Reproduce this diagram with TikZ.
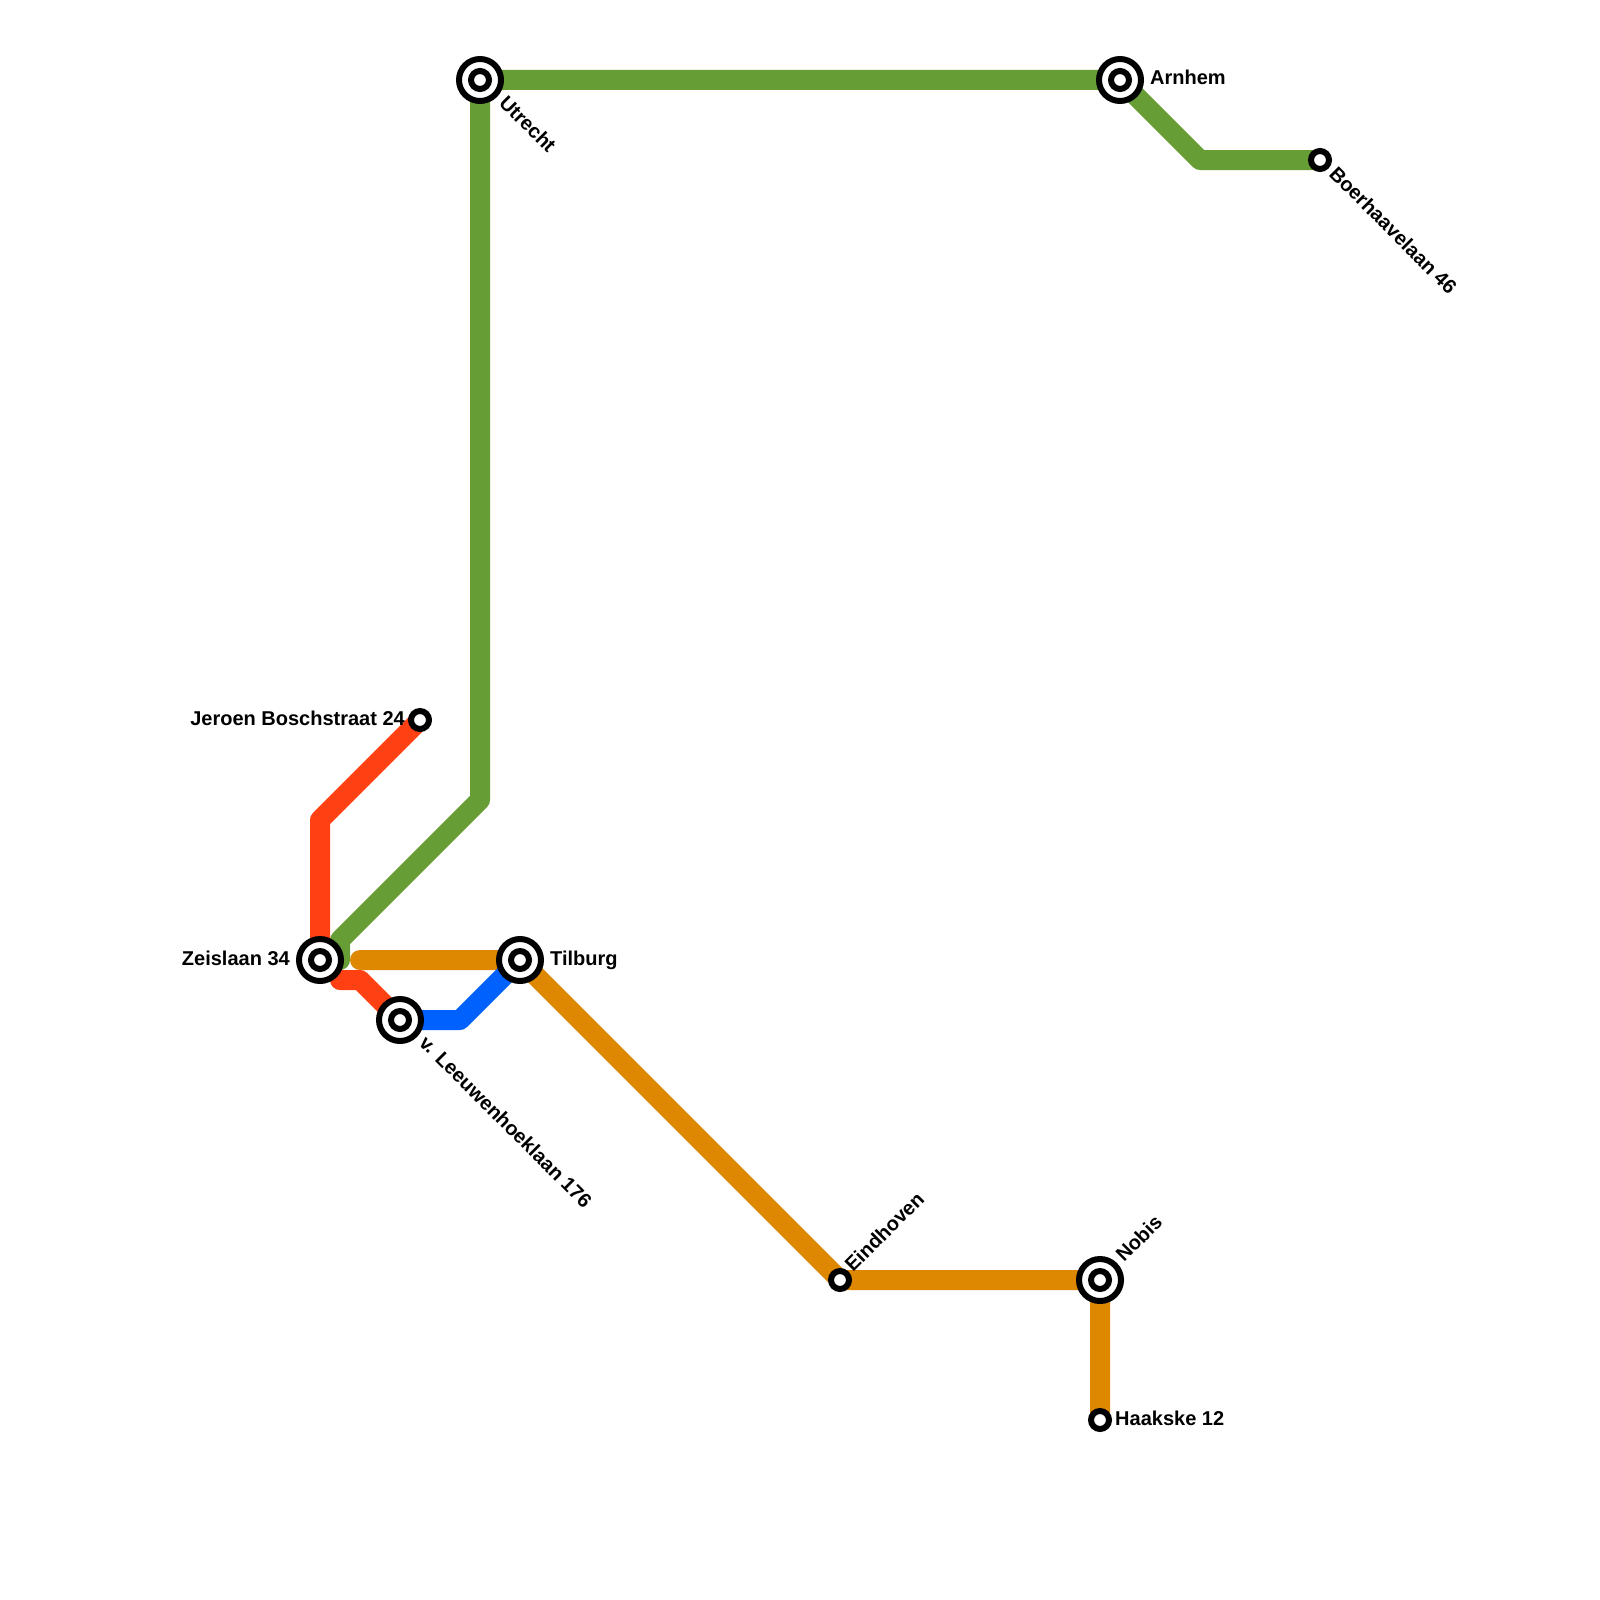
\documentclass[tikz,border=0pt]{standalone}
\usepackage{fontspec}
\setmainfont{Liberation Sans}
\tikzset{
  px/.style={x=1pt,y=-1pt},
  route/.style={line width=20pt,line join=round,line cap=round},
  bigstn/.style={circle,draw=black,fill=white,line width=6pt,minimum size=42pt,inner sep=0pt,outer sep=0pt},
  stndot/.style={circle,draw=black,fill=white,line width=6pt,minimum size=18pt,inner sep=0pt,outer sep=0pt},
  stnlabel/.style={font=\bfseries\fontsize{20}{22}\selectfont,inner sep=0pt,text=black},
}
\definecolor{routegreen}{HTML}{669D34}
\definecolor{routered}{HTML}{FF4013}
\definecolor{routeblue}{HTML}{0061FF}
\definecolor{routeorange}{HTML}{DE8700}
\begin{document}
\begin{tikzpicture}[px]
\useasboundingbox (0,0) rectangle (1600,1600);
\coordinate (zei) at (320,960);
\coordinate (til) at (520,960);
\coordinate (lee) at (400,1020);
\coordinate (utr) at (480,80);
\coordinate (arn) at (1120,80);
\coordinate (boe) at (1320,160);
\coordinate (jer) at (420,720);
\coordinate (ein) at (840,1280);
\coordinate (nob) at (1100,1280);
\coordinate (haa) at (1100,1420);
\coordinate (redstart) at (340,980);
\coordinate (orangestart) at (360,960);
% green
\draw[route,routegreen] (boe) -- (1200,160) -- (arn) -- (utr) -- (480,800) -- (340,940) -- (340,960);
% orange
\draw[route,routeorange] (orangestart) -- (til) -- (ein) -- (nob) -- (haa);
% red
\draw[route,routered] (jer) -- (320,820) -- (zei);
\draw[route,routered] (redstart) -- (360,980) -- (lee);
% blue
\draw[route,routeblue] (lee) -- (460,1020) -- (til);
% stations
\node[bigstn] (szei) at (zei) {}; \node[stndot] (dzei) at (zei) {};
\node[bigstn] (stil) at (til) {}; \node[stndot] (dtil) at (til) {};
\node[bigstn] (slee) at (lee) {}; \node[stndot] (dlee) at (lee) {};
\node[bigstn] (sutr) at (utr) {}; \node[stndot] (dutr) at (utr) {};
\node[bigstn] (sarn) at (arn) {}; \node[stndot] (darn) at (arn) {};
\node[bigstn] (snob) at (nob) {}; \node[stndot] (dnob) at (nob) {};
\node[stndot] (sboe) at (boe) {};
\node[stndot] (sjer) at (jer) {};
\node[stndot] (sein) at (ein) {};
\node[stndot] (shaa) at (haa) {};
% labels
\node[stnlabel,anchor=base east] (ljer) at (405,725) {Jeroen Boschstraat 24};
\node[stnlabel,anchor=base east] (lzei) at (290,965) {Zeislaan 34};
\node[stnlabel,anchor=base west] (ltil) at (550,965) {Tilburg};
\node[stnlabel,anchor=base west] (larn) at (1150,85) {Arnhem};
\node[stnlabel,anchor=base west] (lhaa) at (1115,1425) {Haakske 12};
\node[stnlabel,anchor=base west,rotate=-45] (lutr) at (498,104) {Utrecht};
\node[stnlabel,anchor=base west,rotate=-45] (lboe) at (1328,175) {Boerhaavelaan 46};
\node[stnlabel,anchor=base west,rotate=-45] (llee) at (418,1044) {v. Leeuwenhoeklaan 176};
\node[stnlabel,anchor=base west,rotate=45] (lein) at (853,1273) {Eindhoven};
\node[stnlabel,anchor=base west,rotate=45] (lnob) at (1124,1263) {Nobis};
\end{tikzpicture}
\end{document}
